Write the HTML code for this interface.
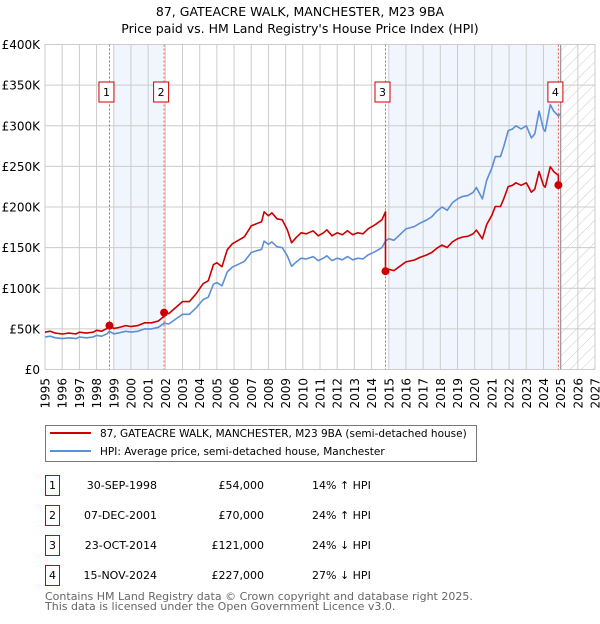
<!DOCTYPE html>
<html><head><meta charset="utf-8">
<style>
body{margin:0;background:#fff;font-family:"DejaVu Sans","Liberation Sans",sans-serif;}
svg text{font-family:"DejaVu Sans","Liberation Sans",sans-serif;}
</style></head>
<body>
<svg id="chart" width="600" height="620" viewBox="0 0 600 620" xmlns="http://www.w3.org/2000/svg">
<defs>
<pattern id="hatch" patternUnits="userSpaceOnUse" width="8" height="8" patternTransform="rotate(45)">
<line x1="0" y1="0" x2="0" y2="8" stroke="#ccc" stroke-width="1"/>
</pattern>
</defs>
<text x="300" y="16" font-size="12.5" text-anchor="middle">87, GATEACRE WALK, MANCHESTER, M23 9BA</text>
<text x="300" y="33" font-size="12.5" text-anchor="middle">Price paid vs. HM Land Registry's House Price Index (HPI)</text>
<g id="plot"></g>
<g>
<rect x="45.5" y="425.5" width="431" height="36" fill="#fff" stroke="#777"/>
<line x1="50" y1="433" x2="91" y2="433" stroke="#cc0000" stroke-width="2"/>
<text x="100" y="437" font-size="10.5">87, GATEACRE WALK, MANCHESTER, M23 9BA (semi-detached house)</text>
<line x1="50" y1="451" x2="91" y2="451" stroke="#5b8fd6" stroke-width="2"/>
<text x="100" y="455" font-size="10.5">HPI: Average price, semi-detached house, Manchester</text>
</g>
<g id="table"></g>
<text x="45" y="600" font-size="11" fill="#666">Contains HM Land Registry data © Crown copyright and database right 2025.</text>
<text x="45" y="610" font-size="11" fill="#666">This data is licensed under the Open Government Licence v3.0.</text>
</svg>
<script>
const hpiYears=[1995.0,1995.3,1995.6,1996.0,1996.4,1996.8,1997.0,1997.4,1997.8,1998.0,1998.3,1998.6,1998.75,1999.0,1999.3,1999.7,2000.0,2000.4,2000.8,2001.2,2001.6,2001.93,2002.2,2002.6,2003.0,2003.4,2003.8,2004.2,2004.5,2004.8,2005.0,2005.3,2005.6,2005.9,2006.2,2006.6,2007.0,2007.3,2007.6,2007.75,2008.0,2008.2,2008.5,2008.8,2009.1,2009.35,2009.6,2009.9,2010.2,2010.6,2010.9,2011.2,2011.4,2011.7,2012.0,2012.3,2012.6,2012.9,2013.2,2013.5,2013.8,2014.2,2014.6,2014.81,2015.0,2015.3,2015.6,2016.0,2016.5,2016.8,2017.2,2017.5,2017.8,2018.1,2018.4,2018.7,2019.0,2019.3,2019.6,2019.9,2020.1,2020.3,2020.45,2020.7,2021.0,2021.2,2021.5,2021.7,2021.95,2022.2,2022.4,2022.7,2023.0,2023.3,2023.5,2023.75,2024.0,2024.1,2024.4,2024.6,2024.87,2025.0];
const hpiValues=[40,41,39,38,39,38,40,39,40,42,41,44,47,44,45,47,46,47,50,50,52,57,56,62,68,68,76,86,89,105,107,103,120,126,129,133,144,146,148,158,154,157,151,150,140,127,132,137,136,139,134,137,140,134,137,135,139,135,137,136,141,145,150,158,161,159,165,173,176,180,184,188,195,200,196,205,210,213,214,218,224,216,210,233,248,262,262,275,294,296,300,296,300,285,290,318,296,293,326,318,312,315];
const saleYears=[1998.75,2001.93,2014.81,2024.87];
const salePrices=[54,70,121,227];
const saleLabels=["1","2","3","4"];
const saleDates=["30-SEP-1998","07-DEC-2001","23-OCT-2014","15-NOV-2024"];
const salePriceText=["£54,000","£70,000","£121,000","£227,000"];
const saleHpiText=["14% ↑ HPI","24% ↑ HPI","24% ↓ HPI","27% ↓ HPI"];
const yTicks=[0,50,100,150,200,250,300,350,400];
const yTickLabels=["£0","£50K","£100K","£150K","£200K","£250K","£300K","£350K","£400K"];
const xStart=1995,xEnd=2027;

const NS="http://www.w3.org/2000/svg";
const L=45,R=595,T=44.5,B=369.5;
const xs=y=>L+(y-xStart)/(xEnd-xStart)*(R-L);
const ys=v=>B-v/400*(B-T);
function mk(tag,attrs,parent){const e=document.createElementNS(NS,tag);for(const k in attrs)e.setAttribute(k,attrs[k]);parent.appendChild(e);return e;}
function hpiAt(t){for(let i=1;i<hpiYears.length;i++){if(t<=hpiYears[i]){const a=hpiYears[i-1],b=hpiYears[i];return hpiValues[i-1]+(hpiValues[i]-hpiValues[i-1])*(t-a)/(b-a);}}return hpiValues[hpiValues.length-1];}
const plot=document.getElementById('plot');
const s1=mk('rect',{x:xs(1999),y:T,width:xs(saleYears[1])-xs(1999),height:B-T,fill:'#eef3fc',opacity:0.8},plot);


const s2=mk('rect',{x:xs(2015),y:T,width:xs(saleYears[3])-xs(2015),height:B-T,fill:'#eef3fc',opacity:0.8},plot);


const hz=mk('rect',{x:xs(2025),y:T,width:R-xs(2025),height:B-T,fill:'url(#hatch)'},plot);


for(let y=xStart;y<=xEnd;y++){
 const g=mk('line',{x1:xs(y),x2:xs(y),y1:T,y2:B,stroke:'#cccccc','stroke-width':1},plot);
 
 
 const tx=xs(y)+4.5, ty=378;
 const t=mk('text',{x:tx,y:ty,'font-size':12,'text-anchor':'end',transform:`rotate(-90 ${tx} ${ty})`},plot);
 
 
 t.textContent=y;
}
yTicks.forEach((v,i)=>{
 const g=mk('line',{x1:L,x2:R,y1:ys(v),y2:ys(v),stroke:'#cccccc','stroke-width':1},plot);
 
 
 const t=mk('text',{x:40,y:ys(v)+4.5,'font-size':12,'text-anchor':'end'},plot);
 
 
 t.textContent=yTickLabels[i];
});
const nl=mk('line',{x1:xs(2025),x2:xs(2025),y1:T,y2:B,stroke:'#999','stroke-width':1.2},plot);


saleYears.forEach((sy,i)=>{
 const l=mk('line',{x1:xs(sy),x2:xs(sy),y1:T,y2:B,stroke:'#ee5555','stroke-width':1,'stroke-dasharray':'2,2'},plot);
 
 
});
const hp=hpiYears.map((y,i)=>`${xs(y).toFixed(1)},${ys(hpiValues[i]).toFixed(1)}`).join(' ');
const hl=mk('polyline',{points:hp,fill:'none',stroke:'#5b8fd6','stroke-width':1.6,'stroke-linejoin':'round'},plot);


const factors=saleYears.map((sy,i)=>salePrices[i]/hpiAt(sy));
function seg(t){let k=0;for(let i=0;i<saleYears.length;i++)if(t>=saleYears[i])k=i;return k;}
const pts=[];
for(let i=0;i<hpiYears.length;i++){
 const t=hpiYears[i];
 for(let j=1;j<saleYears.length;j++){
  const sy=saleYears[j];
  if(i>0&&hpiYears[i-1]<sy&&t>=sy){
   pts.push([sy,hpiAt(sy)*factors[j-1]]);
   pts.push([sy,salePrices[j]]);
  }
 }
 pts.push([t,hpiValues[i]*factors[seg(t)]]);
}
const pl=mk('polyline',{points:pts.map(p=>`${xs(p[0]).toFixed(1)},${ys(p[1]).toFixed(1)}`).join(' '),fill:'none',stroke:'#cc0000','stroke-width':1.6,'stroke-linejoin':'round'},plot);


saleYears.forEach((sy,i)=>{
 const c=mk('circle',{cx:xs(sy),cy:ys(salePrices[i]),r:4,fill:'#cc0000'},plot);
 
 
 const bx=xs(sy)-3;
 const r=mk('rect',{x:bx-7.5,y:82,width:15,height:20,fill:'#fff',stroke:'#cc0000','stroke-width':1},plot);
 
 
 const t=mk('text',{x:bx,y:96,'font-size':11,'text-anchor':'middle'},plot);
 
 
 t.textContent=saleLabels[i];
});
const br=mk('line',{x1:L,x2:R,y1:T,y2:T,stroke:'#cccccc'},plot);


const tb=document.getElementById('table');
saleYears.forEach((sy,i)=>{
 const y0=475+i*30;
 const r=mk('rect',{x:45.5,y:y0+0.5,width:14,height:20,fill:'#fff',stroke:'#cc0000'},tb);
 
 
 const n=mk('text',{x:52.5,y:y0+14,'font-size':11,'text-anchor':'middle'},tb);
 
 
 n.textContent=saleLabels[i];
 const d=mk('text',{x:157,y:y0+14,'font-size':11,'text-anchor':'end'},tb);
 
 
 d.textContent=saleDates[i];
 const p=mk('text',{x:264,y:y0+14,'font-size':11,'text-anchor':'end'},tb);
 
 
 p.textContent=salePriceText[i];
 const h=mk('text',{x:312,y:y0+14,'font-size':11},tb);
 
 
 h.textContent=saleHpiText[i];
});
</script>
</body></html>
